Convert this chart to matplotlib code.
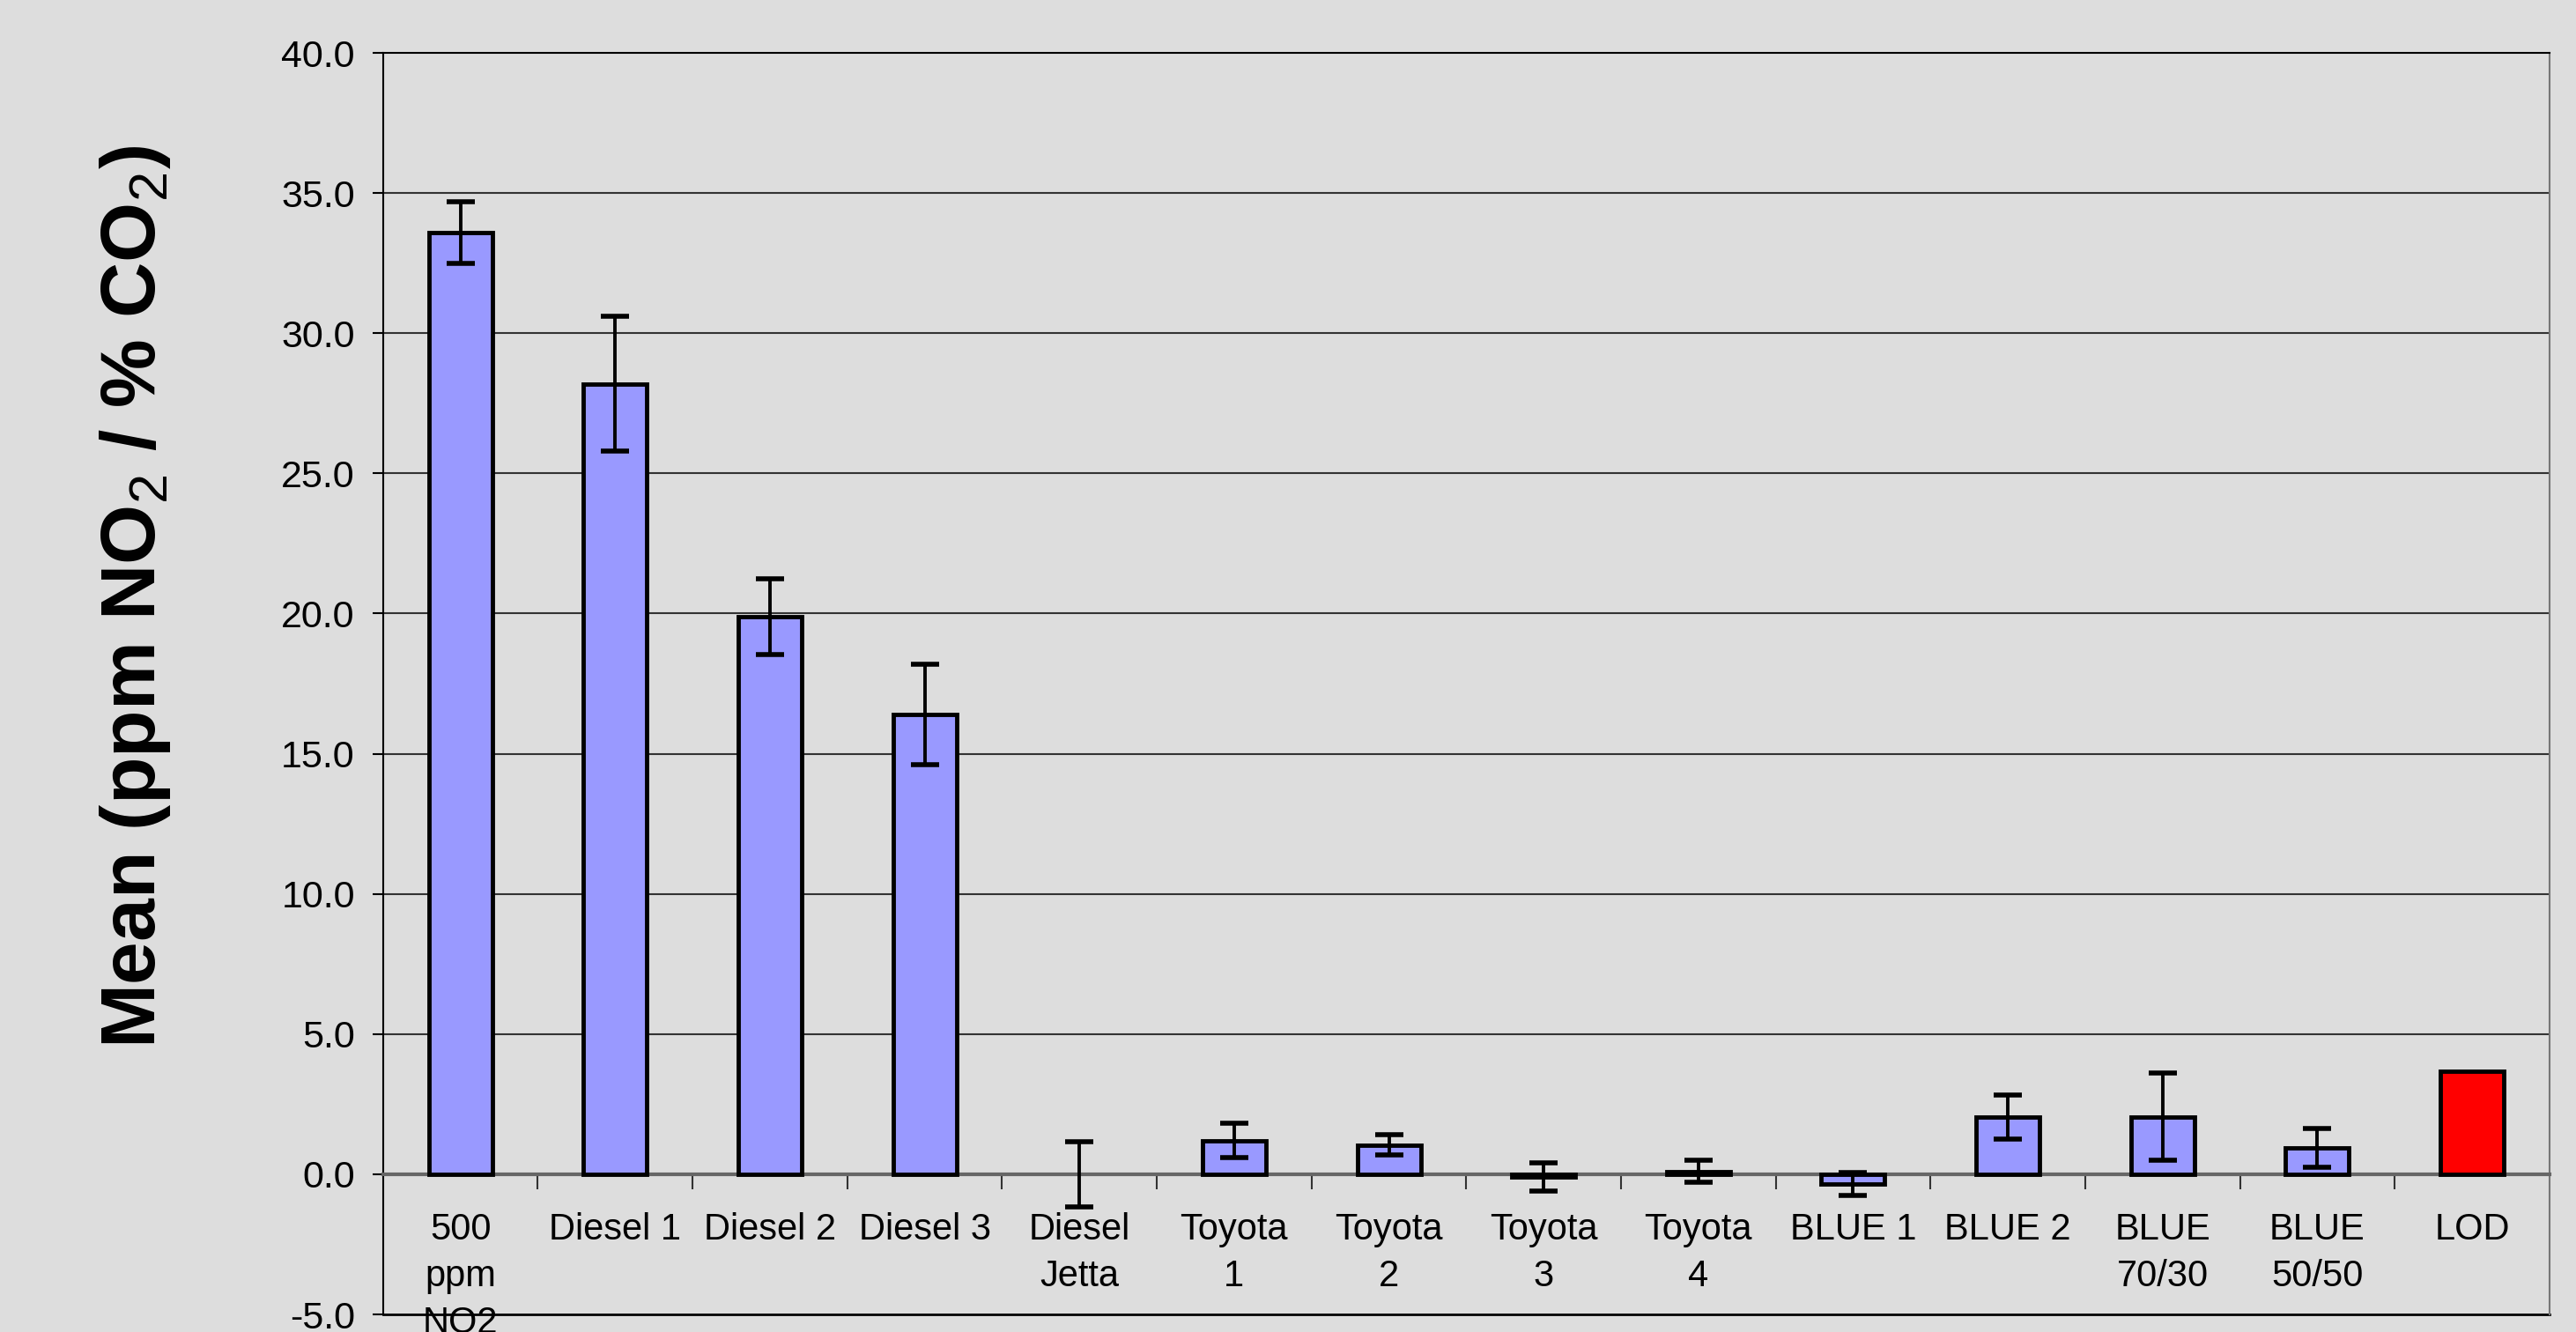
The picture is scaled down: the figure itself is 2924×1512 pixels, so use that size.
import numpy as np
import matplotlib.pyplot as plt
from matplotlib.ticker import FixedLocator, FormatStrFormatter

plt.rcParams['font.family'] = ['Liberation Sans', 'DejaVu Sans']
plt.rcParams['mathtext.fontset'] = 'custom'
plt.rcParams['mathtext.rm'] = 'Liberation Sans'
plt.rcParams['mathtext.bf'] = 'Liberation Sans:bold'

labels = ['500\nppm\nNO2', 'Diesel 1', 'Diesel 2', 'Diesel 3', 'Diesel\nJetta',
          'Toyota\n1', 'Toyota\n2', 'Toyota\n3', 'Toyota\n4', 'BLUE 1', 'BLUE 2',
          'BLUE\n70/30', 'BLUE\n50/50', 'LOD']
means = [33.6, 28.2, 19.9, 16.4, 0.0, 1.2, 1.05, -0.1, 0.1, -0.35, 2.05, 2.05, 0.94, 3.68]
errs = [1.1, 2.4, 1.35, 1.8, 1.15, 0.62, 0.35, 0.5, 0.4, 0.4, 0.78, 1.55, 0.7, 0.0]
colors = ['#9999FF'] * 13 + ['#FF0000']

bg = '#DDDDDD'
fig = plt.figure(figsize=(29.24, 15.12), dpi=100, facecolor=bg)
ax = fig.add_axes([0.1487, 0.0132, 0.8410, 0.9471])
ax.set_facecolor(bg)

x = np.arange(len(labels))
lws = [0 if m == 0 else 3.5 for m in means]
ax.bar(x, means, width=0.41, color=colors, edgecolor='black', linewidth=lws, zorder=3)

# error bars (LOD has none)
ex = x[:-1]
ax.errorbar(ex, means[:-1], yerr=errs[:-1], fmt='none', ecolor='black',
            elinewidth=2.8, capsize=11.5, capthick=4, zorder=4)

ax.set_xlim(-0.5, len(labels) - 0.5)
ax.set_ylim(-5, 40)
ax.set_yticks(np.arange(-5, 41, 5))
ax.yaxis.set_major_formatter(FormatStrFormatter('%.1f'))
ax.tick_params(axis='y', length=9, width=1.5, pad=14, labelsize=31, direction='out')

# category axis sits at zero
ax.spines['bottom'].set_position(('data', 0))
ax.spines['bottom'].set_color('#666666')
ax.spines['bottom'].set_linewidth(3)
ax.spines['bottom'].set_zorder(2.5)
ax.spines['left'].set_linewidth(1.5)
ax.spines['top'].set_linewidth(1.5)
ax.spines['right'].set_color('#777777')
ax.spines['right'].set_linewidth(1.5)

ax.set_xticks(x)
ax.set_xticklabels(labels, fontsize=30, linespacing=1.42)
ax.tick_params(axis='x', which='major', length=0, pad=31)
ax.xaxis.set_minor_locator(FixedLocator(np.arange(0.5, len(labels) - 1, 1)))
ax.tick_params(axis='x', which='minor', length=12, width=1.5, color='#333333', direction='out')

for v in np.arange(5, 40, 5):
    ax.axhline(v, color='#333333', linewidth=1.5, zorder=1)
ax.axhline(-5, color='black', linewidth=2, zorder=1, clip_on=False)

fig.text(0.0525, 0.552, r'Mean (ppm NO$_2$ / % CO$_2$)', rotation=90, fontsize=63,
         fontweight='bold', ha='center', va='center')

fig.savefig('out.png', dpi=100, facecolor=bg)
